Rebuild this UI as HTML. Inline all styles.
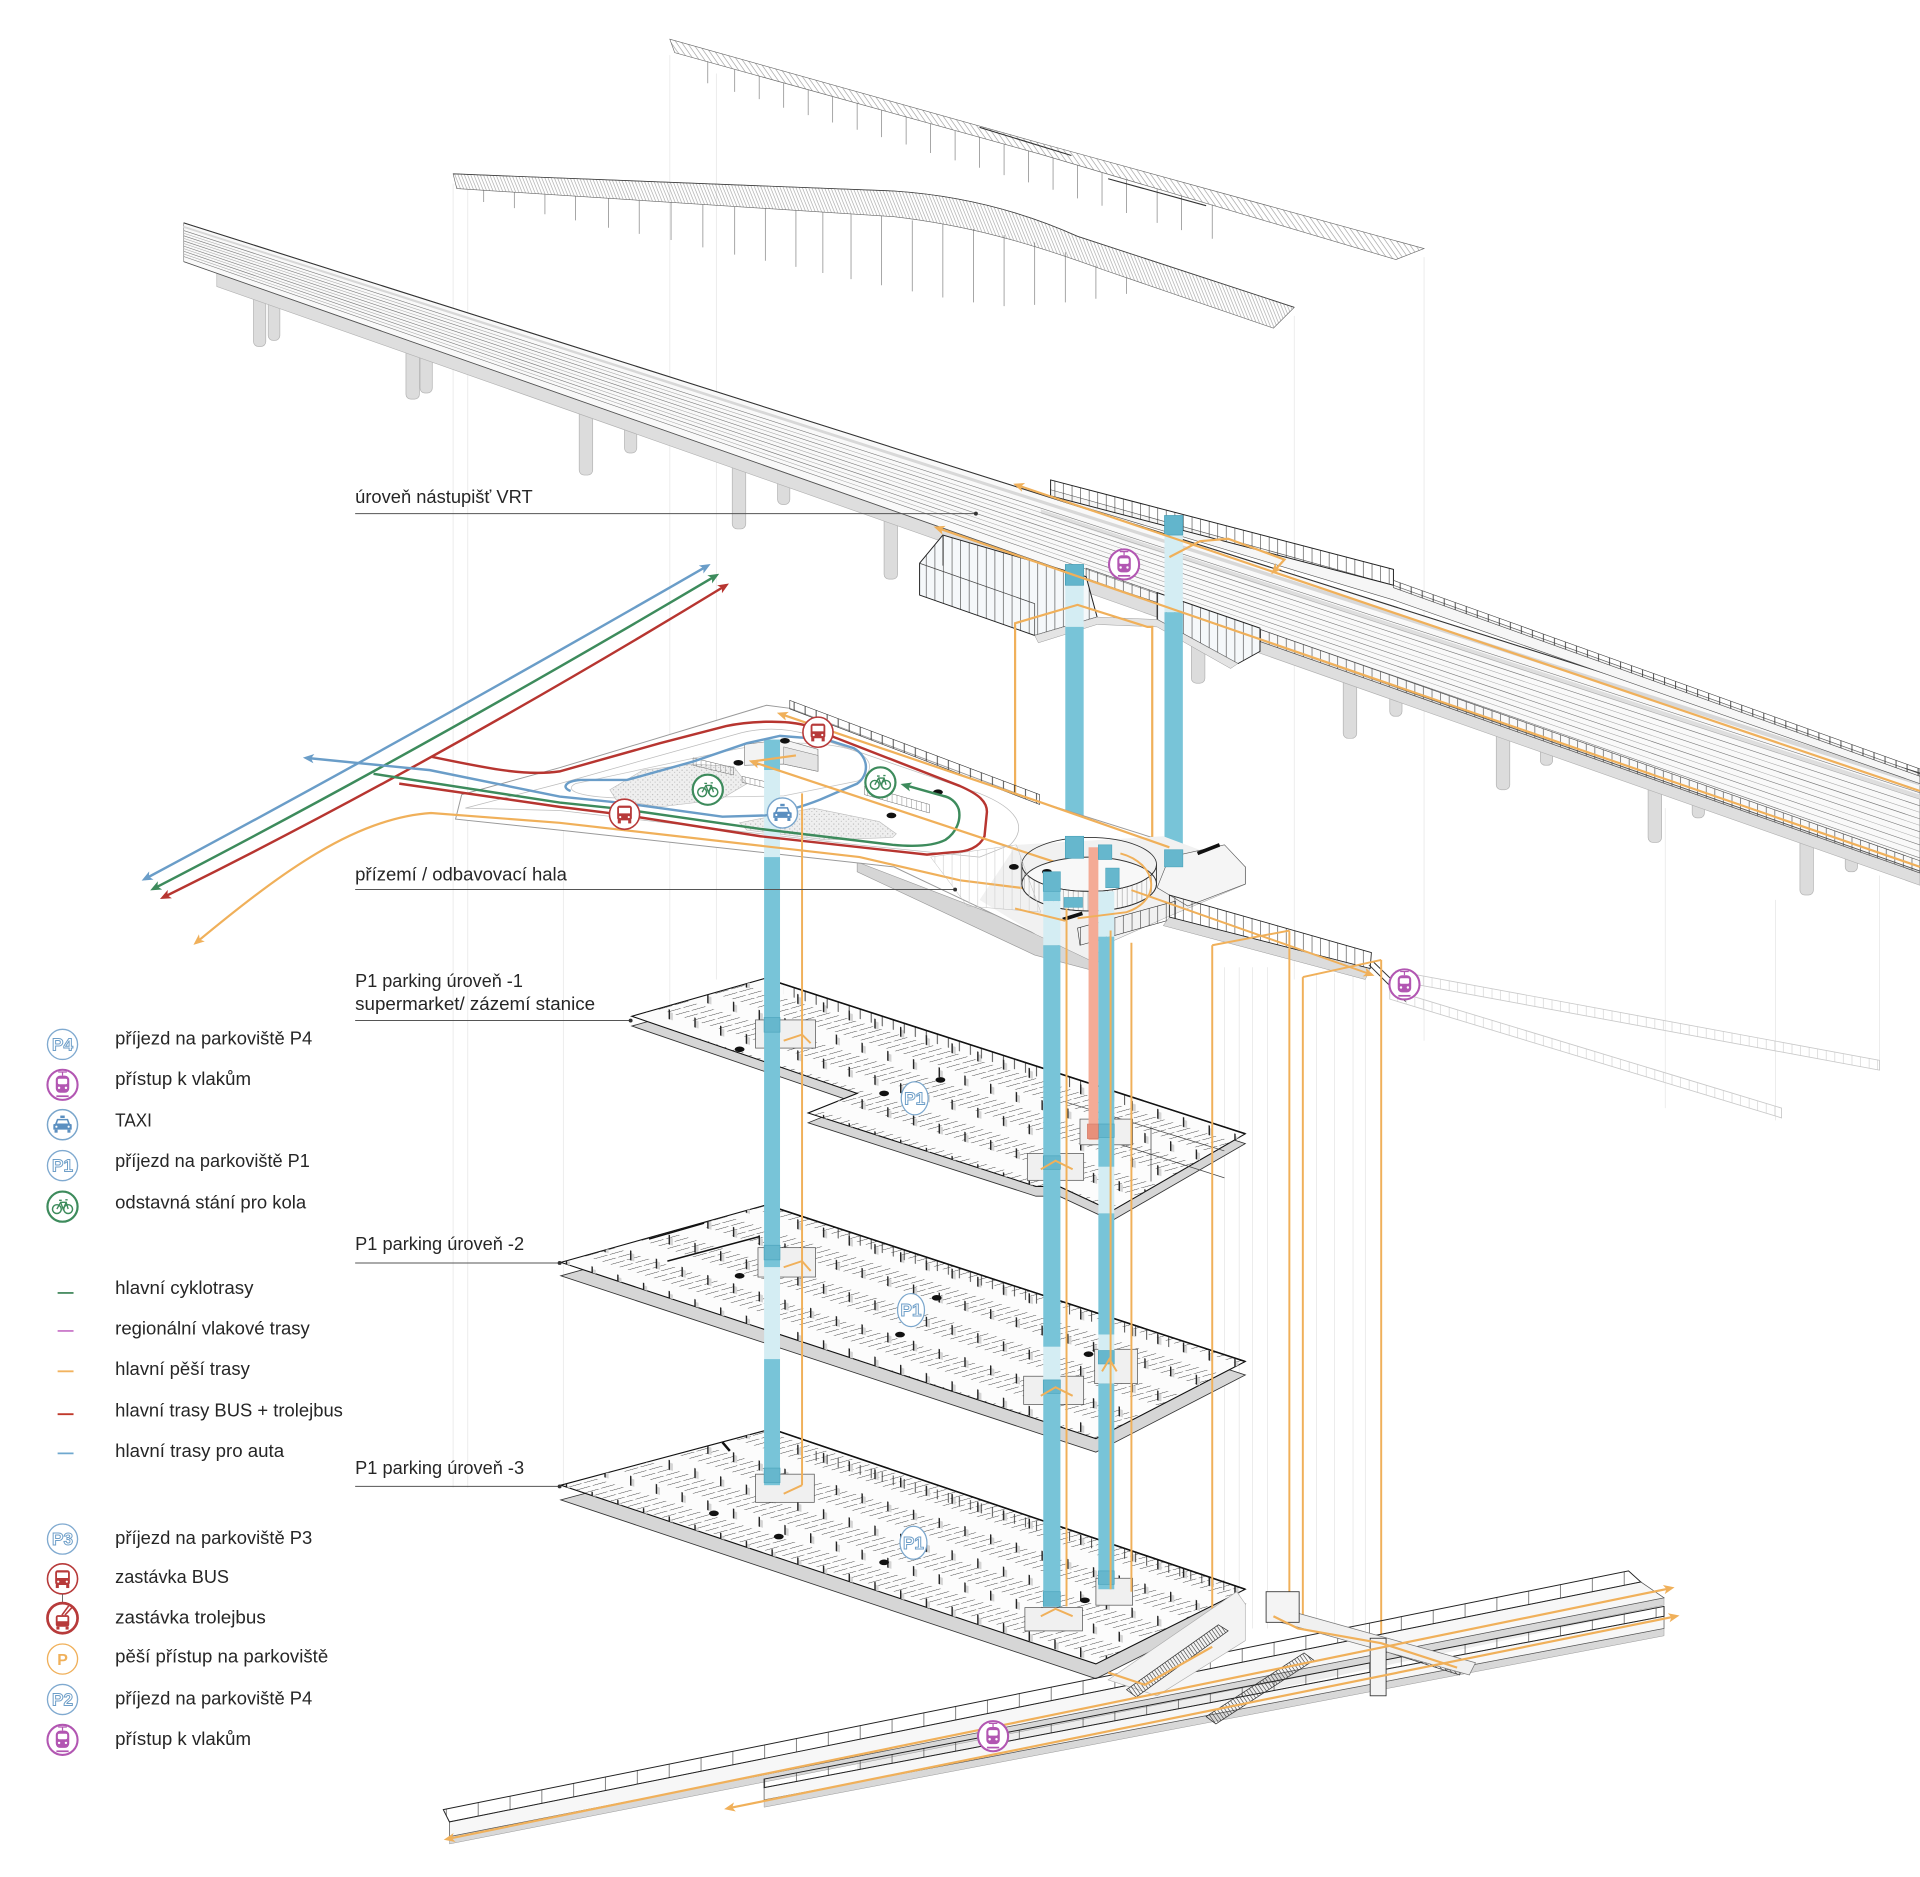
<!DOCTYPE html>
<html lang="cs"><head><meta charset="utf-8"><title>diagram</title>
<style>
html,body{margin:0;padding:0;background:#fff;width:1920px;height:1877px;overflow:hidden}
svg{display:block}
text{font-family:"Liberation Sans",Arial,sans-serif;fill:#262626}
</style></head><body>
<svg xmlns="http://www.w3.org/2000/svg" width="1920" height="1877" viewBox="0 0 1568 1533">
<defs>
<pattern id="vl" width="6" height="10" patternUnits="userSpaceOnUse"><line x1="0.5" y1="0" x2="0.5" y2="10" stroke="#333" stroke-width="0.5"/></pattern>
<pattern id="vl9" width="9" height="10" patternUnits="userSpaceOnUse"><line x1="0.5" y1="0" x2="0.5" y2="10" stroke="#333" stroke-width="0.7"/></pattern>
<pattern id="vlG" width="7" height="10" patternUnits="userSpaceOnUse"><line x1="0.5" y1="0" x2="0.5" y2="10" stroke="#444" stroke-width="0.5"/></pattern>
<pattern id="vlL" width="4" height="10" patternUnits="userSpaceOnUse"><line x1="0.5" y1="0" x2="0.5" y2="10" stroke="#8a8a8a" stroke-width="0.4"/></pattern>
<pattern id="vlS" width="26" height="10" patternUnits="userSpaceOnUse"><line x1="0.5" y1="0" x2="0.5" y2="10" stroke="#555" stroke-width="0.6"/></pattern>
<pattern id="vlF" width="7" height="10" patternUnits="userSpaceOnUse"><line x1="0.5" y1="0" x2="0.5" y2="10" stroke="#cfcfcf" stroke-width="0.5"/></pattern>
<pattern id="h1" width="3.6" height="3.6" patternUnits="userSpaceOnUse" patternTransform="rotate(-35)"><line x1="0.5" y1="0" x2="0.5" y2="3.6" stroke="#555" stroke-width="0.3"/></pattern>
<pattern id="h2" width="2.4" height="3" patternUnits="userSpaceOnUse" patternTransform="rotate(-22)"><line x1="0.5" y1="0" x2="0.5" y2="3" stroke="#666" stroke-width="0.3"/></pattern>
<pattern id="stall" width="7" height="46" patternUnits="userSpaceOnUse" patternTransform="matrix(1,0.32,-1,0.28,0,0)"><line x1="1" y1="5" x2="1" y2="16" stroke="#333" stroke-width="0.62"/><line x1="1" y1="18" x2="1" y2="29" stroke="#333" stroke-width="0.62"/></pattern>
<pattern id="posts" width="21" height="46" patternUnits="userSpaceOnUse" patternTransform="skewY(17.7)"><rect x="0" y="8" width="3.5" height="6" fill="#d4d4d4"/><rect x="0" y="6" width="1.15" height="8" fill="#222"/><rect x="10.5" y="31" width="3.5" height="6" fill="#d4d4d4"/><rect x="10.5" y="29" width="1.15" height="8" fill="#222"/></pattern>
<pattern id="speck" width="4" height="4" patternUnits="userSpaceOnUse"><circle cx="1" cy="1" r="0.45" fill="#9a9a9a"/><circle cx="3" cy="2.8" r="0.4" fill="#aaa"/></pattern>
<pattern id="esc" width="2.6" height="4" patternUnits="userSpaceOnUse" patternTransform="rotate(-35)"><line x1="0.5" y1="0" x2="0.5" y2="4" stroke="#333" stroke-width="0.5"/></pattern>
<marker id="mB" viewBox="0 0 10 10" refX="7" refY="5" markerUnits="userSpaceOnUse" markerWidth="9" markerHeight="9" orient="auto-start-reverse"><path d="M0,0.8 L10,5 L0,9.2 L2.5,5 Z" fill="#6a9dc8"/></marker>
<marker id="mG" viewBox="0 0 10 10" refX="7" refY="5" markerUnits="userSpaceOnUse" markerWidth="9" markerHeight="9" orient="auto-start-reverse"><path d="M0,0.8 L10,5 L0,9.2 L2.5,5 Z" fill="#3d8b5c"/></marker>
<marker id="mR" viewBox="0 0 10 10" refX="7" refY="5" markerUnits="userSpaceOnUse" markerWidth="9" markerHeight="9" orient="auto-start-reverse"><path d="M0,0.8 L10,5 L0,9.2 L2.5,5 Z" fill="#b73530"/></marker>
<marker id="mO" viewBox="0 0 10 10" refX="7" refY="5" markerUnits="userSpaceOnUse" markerWidth="9" markerHeight="9" orient="auto-start-reverse"><path d="M0,0.8 L10,5 L0,9.2 L2.5,5 Z" fill="#f0b05a"/></marker>

<g id="iTrain">
 <circle r="12.3" fill="#fff" stroke="#b256b2" stroke-width="1.7"/>
 <path d="M-3.5,-10.5 L3.5,-10.5 M0,-10.5 L0,-7.5" stroke="#b256b2" stroke-width="1" fill="none"/>
 <rect x="-5.5" y="-7.5" width="11" height="14" rx="3.5" fill="#b256b2"/>
 <rect x="-3.8" y="-5" width="7.6" height="4.5" rx="1" fill="#fff"/>
 <circle cx="-2.8" cy="2.5" r="1" fill="#fff"/><circle cx="2.8" cy="2.5" r="1" fill="#fff"/>
 <path d="M-5,9.3 L5,9.3" stroke="#b256b2" stroke-width="1.4"/>
</g>
<g id="iBus">
 <circle r="12.3" fill="#fff" stroke="#b73a3a" stroke-width="1.3"/>
 <rect x="-6" y="-7" width="12" height="12" rx="2" fill="#b73a3a"/>
 <rect x="-4.5" y="-5.2" width="9" height="4.5" fill="#fff"/>
 <circle cx="-3.5" cy="2.3" r="0.9" fill="#fff"/><circle cx="3.5" cy="2.3" r="0.9" fill="#fff"/>
 <rect x="-5.5" y="4.5" width="2.5" height="3" fill="#b73a3a"/><rect x="3" y="4.5" width="2.5" height="3" fill="#b73a3a"/>
</g>
<g id="iTaxi">
 <circle r="12.3" fill="#fff" stroke="#7aa6cc" stroke-width="1.2"/>
 <rect x="-1.8" y="-7.5" width="3.6" height="2" fill="#5b8fc0"/>
 <path d="M-4.5,-4.8 L4.5,-4.8 L6,-0.8 L7.5,-0.3 L7.5,4 L-7.5,4 L-7.5,-0.3 L-6,-0.8 Z" fill="#5b8fc0"/>
 <path d="M-3.6,-3.6 L3.6,-3.6 L4.5,-1 L-4.5,-1Z" fill="#fff"/>
 <rect x="-6.5" y="4" width="2.5" height="2.5" fill="#5b8fc0"/><rect x="4" y="4" width="2.5" height="2.5" fill="#5b8fc0"/>
 <circle cx="-5" cy="1.6" r="0.9" fill="#fff"/><circle cx="5" cy="1.6" r="0.9" fill="#fff"/>
</g>
<g id="iBike">
 <circle r="12.3" fill="#fff" stroke="#3d8b5c" stroke-width="1.8"/>
 <circle cx="-4.6" cy="2" r="3.6" fill="none" stroke="#3d8b5c" stroke-width="1.2"/>
 <circle cx="4.6" cy="2" r="3.6" fill="none" stroke="#3d8b5c" stroke-width="1.2"/>
 <path d="M-4.6,2 L-1.5,-3.5 L3,-3.5 L4.6,2 M-1.5,-3.5 L0.5,2 L3,-3.5 M-2.8,-5.2 L-0.6,-5.2 M2.3,-5.6 L4.2,-5.6" fill="none" stroke="#3d8b5c" stroke-width="1.1"/>
</g>
<g id="iTrol">
 <circle r="12.3" fill="#fff" stroke="#b73a3a" stroke-width="2.2"/>
 <path d="M-0.5,-2.5 L5,-10 M2,-2.5 L8,-9" stroke="#b73a3a" stroke-width="1.3" fill="none"/>
 <rect x="-5.5" y="-2.5" width="11" height="9.5" rx="1.8" fill="#b73a3a"/>
 <rect x="-4" y="-1" width="8" height="3.5" fill="#fff"/>
 <rect x="-5" y="7" width="2.5" height="2.3" fill="#b73a3a"/><rect x="2.5" y="7" width="2.5" height="2.3" fill="#b73a3a"/>
</g>
</defs>

<!-- faint projection lines -->
<g stroke="#e6e6e6" stroke-width="0.6" fill="none">
<path d="M370,150V1215 M382,153V1215 M460,640V1215 M547,45V835 M585,60V800 M1057,258V800 M1163,210V850 M1360,660V905 M1450,735V915 M1535,715V870"/>
</g>
<g stroke="#e0e0e0" stroke-width="0.5" fill="none">
<path d="M1000,790V1330 M1012,790V1330 M1023,790V1330 M1035,790V1330 M1075,795V1330 M1090,795V1335 M1105,795V1340 M1115,795V1340"/>
</g>

<!-- Roof 1 -->
<g stroke="#888" stroke-width="0.6">
<path d="M578,50V68 M600,57V75 M620,62V81 M640,68V88 M660,73V94 M680,79V100 M700,84V106 M720,90V112 M740,95V118 M760,101V125 M780,107V131 M800,112V137 M820,118V143 M840,123V149 M860,129V155 M880,135V162 M900,141V168 M920,147V174 M945,154V182 M965,160V188 M990,167V195"/>
</g>
<polygon points="547,32 850,117 1163,203 1140,212 850,126 551,43" fill="url(#h1)" stroke="#666" stroke-width="0.5"/>
<path d="M800,104 L875,127 M905,146 L985,168" stroke="#333" stroke-width="0.9"/>

<!-- Roof 2 -->
<g stroke="#888" stroke-width="0.6">
<path d="M395,155V165 M420,157V170 M445,159V175 M470,160V180 M497,162V186 M522,164V191 M548,165V196 M574,167V202 M600,169V208 M625,170V213 M650,172V218 M672,173V223 M695,175V228 M720,176V233 M745,180V238 M770,183V243 M795,187V247 M820,192V250 M845,198V249 M870,206V247 M895,217V244 M920,227V240"/>
</g>
<path d="M370,142 L730,156 C790,160 840,175 880,193 L1057,251 L1040,268 L900,220 C840,198 790,184 730,177 L373,154 Z" fill="url(#h2)" stroke="#666" stroke-width="0.5"/>
<path d="M370,142 L730,156 C790,160 840,175 880,193 L1057,251" fill="none" stroke="#444" stroke-width="0.7"/>

<!-- Viaduct pillars -->
<g fill="#dcdcdc" stroke="#b5b5b5" stroke-width="0.6">
<rect x="207" y="230" width="10" height="53" rx="4"/>
<rect x="219" y="234" width="9.5" height="44" rx="4"/>
<rect x="331.5" y="270" width="11" height="56" rx="4"/>
<rect x="343" y="274" width="10" height="47" rx="4"/>
<rect x="473" y="320" width="11" height="68" rx="4"/>
<rect x="510" y="333" width="10" height="37" rx="4"/>
<rect x="598" y="360" width="11" height="72" rx="4"/>
<rect x="635" y="373" width="10" height="39" rx="4"/>
<rect x="722" y="405" width="11" height="68" rx="4"/>
<rect x="973" y="495" width="11" height="63" rx="4"/>
<rect x="1097" y="540" width="11" height="63" rx="4"/>
<rect x="1135" y="553" width="10" height="32" rx="4"/>
<rect x="1222" y="583" width="11" height="62" rx="4"/>
<rect x="1258" y="596" width="10" height="29" rx="4"/>
<rect x="1346" y="627" width="11" height="61" rx="4"/>
<rect x="1382" y="640" width="10" height="28" rx="4"/>
<rect x="1470" y="670" width="11" height="61" rx="4"/>
<rect x="1507" y="683" width="10" height="29" rx="4"/>
</g>

<!-- Viaduct deck -->
<polygon points="177,223 1568,711 1568,723 177,234" fill="#dedede" stroke="#b0b0b0" stroke-width="0.5"/>
<polygon points="150,182 1568,631.5 1568,711.4 150,213.7" fill="#f9f9f9" stroke="#777" stroke-width="0.5"/>
<polygon points="150,184.5 1568,637.9 1568,641.7 150,186.1" fill="#d8d8d8"/>
<polygon points="850,416 1568,649 1568,653 850,419.5" fill="#dedede"/>
<g fill="none" stroke="#7a7a7a" stroke-width="0.5">
<path d="M150,188.3L1568,647.5 M150,192.6L1568,658.1 M150,196.8L1568,668.8 M150,201L1568,679.4 M150,205.2L1568,690.1 M150,209.5L1568,700.7"/>
</g>
<g fill="none" stroke="#aaa" stroke-width="0.45">
<path d="M150,190.5L1568,652.8 M150,194.7L1568,663.5 M150,198.9L1568,674.1 M150,203.1L1568,684.8 M150,207.4L1568,695.4"/>
</g>
<path d="M150,182 L1568,631.5" stroke="#333" stroke-width="0.9"/>
<path d="M150,213.7 L1568,711.4" stroke="#555" stroke-width="0.7"/>
<!-- far platform & glass -->
<polygon points="858,400 1138,478 1568,632 1568,640 1138,490 858,406" fill="#f6f6f6" stroke="#555" stroke-width="0.5"/>
<polygon points="858,392 1138,465 1138,478 858,405" fill="url(#vlG)" stroke="#222" stroke-width="0.8"/>
<polygon points="1138,474 1568,628 1568,634 1138,480" fill="url(#vl9)" stroke="#444" stroke-width="0.5"/>
<!-- near platform railing -->
<polygon points="887,464 945,484 945,492 887,473" fill="url(#vlG)" stroke="#444" stroke-width="0.5"/>
<polygon points="1029,514 1568,703 1568,713 1029,524" fill="url(#vlG)" stroke="#444" stroke-width="0.5"/>
<!-- glass halls -->
<polygon points="751,460 770,437 887,471 896,504 845,519 751,486" fill="#f5f8fa"/>
<polygon points="751,460 770,437 887,471 896,504 845,519 751,486" fill="url(#vlG)" stroke="#222" stroke-width="0.8"/>
<path d="M751,460 L845,493 L845,519 M770,437 L770,462" stroke="#444" stroke-width="0.6" fill="none"/>
<polygon points="945,484 1029,513 1029,532 1011,542 945,506" fill="#f5f8fa"/>
<polygon points="945,484 1029,513 1029,532 1011,542 945,506" fill="url(#vlG)" stroke="#222" stroke-width="0.8"/>
<polygon points="845,519 896,504 945,506 1011,542 1005,546 945,512 896,510 848,525" fill="#e4e4e4" stroke="#999" stroke-width="0.4"/>

<!-- upper shafts -->
<rect x="870" y="478" width="15" height="34" fill="#d4edf3"/>
<rect x="870" y="512" width="15" height="180" fill="#78c4d8"/>
<rect x="951" y="437" width="15" height="63" fill="#d4edf3"/>
<rect x="951" y="500" width="15" height="193" fill="#78c4d8"/>
<rect x="870" y="461" width="15" height="17" fill="#62b5cc" stroke="#3f98b1" stroke-width="0.5"/>
<rect x="951" y="421" width="15" height="16" fill="#62b5cc" stroke="#3f98b1" stroke-width="0.5"/>

<!-- upper orange paths -->
<g fill="none" stroke="#f0b05a" stroke-width="1.8">
<path d="M830,396 L1568,646" marker-start="url(#mO)"/>
<path d="M765,431 L1568,708" marker-start="url(#mO)"/>
<path d="M955,455 L980,442 L1003,440 L1049,457 L1040,467" marker-end="url(#mO)"/>
<path d="M829,742 V509 L880,494 L937,512 L941,512 V748"/>
</g>

<!-- long route arrows -->
<g fill="none" stroke-width="2">
<path d="M118,718 Q330,605 578,462" stroke="#6a9dc8" marker-start="url(#mB)" marker-end="url(#mB)"/>
<path d="M125,726 Q340,615 585,470" stroke="#3d8b5c" marker-start="url(#mG)" marker-end="url(#mG)"/>
<path d="M133,733 Q352,625 593,478" stroke="#b73530" marker-start="url(#mR)" marker-end="url(#mR)"/>
</g>

<!-- Plaza -->
<polygon points="700,704 846,760 890,784 905,770 905,778 890,792 845,780 700,712" fill="#d6d6d6" stroke="#999" stroke-width="0.5"/>
<polygon points="372,669 377,649 457,627 626,576 645,578.5 849,655 1017,708 1017,722 955,748 905,770 890,784 846,763 730,708 457,678" fill="#fff" stroke="#9a9a9a" stroke-width="0.8"/>
<polygon points="830,690 950,683 1017,708 1017,722 955,748 905,770 890,784 846,763 800,735" fill="#f1f1f1"/>
<path d="M380,660 L457,640 L600,600 C620,594 640,594 660,600 L800,648 C830,660 840,675 825,690 L800,700 L700,690 L457,662 Z" fill="none" stroke="#bbb" stroke-width="0.6"/>
<path d="M470,640 L600,612 C640,604 680,606 700,614 C715,622 712,632 700,638 L640,650 L520,652 C470,652 460,645 470,640 Z" fill="none" stroke="#c4c4c4" stroke-width="0.6"/>
<polygon points="645,572 849,649 849,657 645,579" fill="url(#vl9)" stroke="#333" stroke-width="0.5"/>
<!-- islands -->
<polygon points="498,645 525,629 566,624 599,626 610,640 588,653 539,659 503,653" fill="#efefef"/>
<polygon points="498,645 525,629 566,624 599,626 610,640 588,653 539,659 503,653" fill="url(#speck)" stroke="#bbb" stroke-width="0.5"/>
<polygon points="604,672 664,660 718,671 732,681 729,684 675,686 610,678" fill="#efefef"/>
<polygon points="604,672 664,660 718,671 732,681 729,684 675,686 610,678" fill="url(#speck)" stroke="#bbb" stroke-width="0.5"/>
<!-- bike racks -->
<polygon points="566,619 599,627 599,633 566,625" fill="url(#vlL)" stroke="#666" stroke-width="0.4"/>
<polygon points="606,634 632,640 632,645 606,639" fill="url(#vlL)" stroke="#666" stroke-width="0.4"/>
<polygon points="706,642 759,657 759,664 706,649" fill="url(#vlL)" stroke="#666" stroke-width="0.4"/>
<!-- small building -->
<polygon points="608,608 640,604 668,612 668,630 640,624 608,625" fill="#f3f3f3" stroke="#777" stroke-width="0.5"/>
<polygon points="640,610 668,617 668,630 640,624" fill="#e4e4e4" stroke="#777" stroke-width="0.4"/>
<!-- shaft A top on plaza -->
<rect x="624" y="604" width="13" height="25" fill="#78c4d8"/>
<rect x="624" y="629" width="13" height="71" fill="#d4edf3"/>
<!-- blobs -->
<g fill="#111"><ellipse cx="641" cy="605" rx="4" ry="2.3"/><ellipse cx="603" cy="623" rx="4" ry="2.3"/><ellipse cx="766" cy="647" rx="4" ry="2.3"/><ellipse cx="728" cy="666" rx="4" ry="2.3"/></g>

<!-- plaza routes -->
<g fill="none" stroke-width="2">
<path d="M250,619 L351,629 L457,650.6 L510,656 L590,667 L625,666 C645,662 660,657 670,653 L700,640 C710,633 710,618 697,611 L675,604 L637,601 L610,607 L566,622 L512,637 L474,637 C462,638 458,643 466,646" stroke="#6a9dc8" marker-start="url(#mB)"/>
<path d="M305,632 L457,655.5 L510,661 L621,677 L729,690 C750,692 764,690 772,686 C781,680 785,670 783,661 C781,655 776,651 770,650 L738,641" stroke="#3d8b5c" marker-end="url(#mG)"/>
<path d="M352,618 C400,628 430,634 457,630 L539,607 L593,593 C612,589 640,588 656,592 C668,595 675,598 681,602 L784,642 C800,649 806,655 806,663 L804,683 C800,692 790,696 778,696 L757,698 L621,683 L510,665.6 L457,659 L326,640" stroke="#b73530"/>
</g>
<g fill="none" stroke="#f0b05a" stroke-width="1.8">
<path d="M160,770 C230,712 290,668 352,664 L457,672 L702,700 L784,719 L849,727 L880,736" marker-start="url(#mO)"/>
<path d="M637,583 L849,655 L955,692" marker-start="url(#mO)"/>
<path d="M614,622 L849,700 L905,718" marker-start="url(#mO)"/>
<path d="M614,622 L650,617"/>
</g>

<!-- Hall -->
<ellipse cx="889.5" cy="722" rx="55" ry="22" fill="#f8f8f8" stroke="#333" stroke-width="0.8"/>
<path d="M834.5,706 A55,22 0 0 0 944.5,706 L944.5,722 A55,22 0 0 1 834.5,722 Z" fill="url(#vlL)" stroke="#333" stroke-width="0.7"/>
<ellipse cx="889.5" cy="706" rx="55" ry="22" fill="none" stroke="#333" stroke-width="0.7"/>
<polygon points="760,700 830,690 850,745 790,740" fill="url(#vlF)" stroke="#bbb" stroke-width="0.4"/>
<polygon points="955,700 1000,690 1017,708 1017,722 970,740 945,725" fill="#f5f5f5" stroke="#555" stroke-width="0.5"/>
<polygon points="880,758 960,736 960,750 882,772" fill="url(#vlG)" stroke="#333" stroke-width="0.5"/>
<path d="M978,697 L996,690" stroke="#111" stroke-width="3"/>
<path d="M868,751 L884,746" stroke="#111" stroke-width="3"/>
<g fill="#111"><ellipse cx="855" cy="712" rx="4" ry="2.3"/><ellipse cx="880" cy="690" rx="4" ry="2.3"/><ellipse cx="828" cy="708" rx="4" ry="2.3"/></g>
<!-- bridge -->
<polygon points="955,749 1119,791 1115,800 950,756" fill="#dcdcdc" stroke="#999" stroke-width="0.4"/>
<polygon points="955,731 1120,778 1119,791 955,749" fill="url(#vlG)" stroke="#222" stroke-width="0.7"/>
<path d="M1118,788 L1148,818 M1122,786 L1152,815" stroke="#333" stroke-width="0.8"/>
<!-- faded ramps -->
<polygon points="1140,793 1535,866 1535,874 1140,801" fill="url(#vlF)" stroke="#c9c9c9" stroke-width="0.7"/>
<polygon points="1135,808 1455,905 1455,913 1135,816" fill="url(#vlF)" stroke="#c9c9c9" stroke-width="0.7"/>

<!-- Parking level -1 -->
<polygon points="516,830 625,799 1017,926 908,989 865,969 846,969 660,909 700,893" transform="translate(0,8)" fill="#d6d6d6" stroke="#333" stroke-width="0.7"/>
<polygon points="516,830 625,799 1017,926 908,989 865,969 846,969 660,909 700,893" fill="#fcfcfc" stroke="#111" stroke-width="0.9"/>
<polygon points="516,830 625,799 1017,926 908,989 865,969 846,969 660,909 700,893" fill="url(#stall)"/>
<polygon points="516,830 625,799 1017,926 908,989 865,969 846,969 660,909 700,893" fill="url(#posts)"/>
<polygon points="640,804 920,895 920,903 640,812" fill="url(#vl9)"/>
<path d="M625,799 L1017,926" stroke="#111" stroke-width="1.3"/>
<path d="M870,900 L1000,940 M900,930 L1000,962 M940,920 L940,965" stroke="#444" stroke-width="0.6"/>
<g fill="#111"><ellipse cx="604" cy="857" rx="4" ry="2.3"/><ellipse cx="768" cy="882" rx="4" ry="2.3"/><ellipse cx="722" cy="893" rx="4" ry="2.3"/><ellipse cx="857" cy="934" rx="4" ry="2.3"/></g>

<!-- Parking level -2 -->
<polygon points="458,1031 626,984 1017,1112 895,1175" transform="translate(0,11)" fill="#d6d6d6" stroke="#333" stroke-width="0.7"/>
<polygon points="458,1031 626,984 1017,1112 895,1175" fill="#fcfcfc" stroke="#111" stroke-width="0.9"/>
<polygon points="458,1031 626,984 1017,1112 895,1175" fill="url(#stall)"/>
<polygon points="458,1031 626,984 1017,1112 895,1175" fill="url(#posts)"/>
<polygon points="680,1002 960,1094 960,1102 680,1010" fill="url(#vl9)"/>
<path d="M626,984 L1017,1112" stroke="#111" stroke-width="1.3"/>
<path d="M530,1012 L575,999 M545,1030 L620,1010" stroke="#111" stroke-width="1.2"/>
<g fill="#111"><ellipse cx="604" cy="1042" rx="4" ry="2.3"/><ellipse cx="765" cy="1060" rx="4" ry="2.3"/><ellipse cx="735" cy="1090" rx="4" ry="2.3"/><ellipse cx="889" cy="1106" rx="4" ry="2.3"/></g>

<!-- Parking level -3 -->
<polygon points="458,1213 630,1167 1017,1298 895,1359" transform="translate(0,12)" fill="#d6d6d6" stroke="#333" stroke-width="0.7"/>
<polygon points="458,1213 630,1167 1017,1298 895,1359" fill="#fcfcfc" stroke="#111" stroke-width="0.9"/>
<polygon points="458,1213 630,1167 1017,1298 895,1359" fill="url(#stall)"/>
<polygon points="458,1213 630,1167 1017,1298 895,1359" fill="url(#posts)"/>
<polygon points="660,1183 1000,1291 1000,1299 660,1191" fill="url(#vl9)"/>
<path d="M630,1167 L1017,1298" stroke="#111" stroke-width="1.3"/>
<path d="M590,1178 L596,1185" stroke="#111" stroke-width="2"/>
<g fill="#111"><ellipse cx="583" cy="1236" rx="4" ry="2.3"/><ellipse cx="636" cy="1255" rx="4" ry="2.3"/><ellipse cx="722" cy="1276" rx="4" ry="2.3"/><ellipse cx="886" cy="1307" rx="4" ry="2.3"/></g>

<!-- cabins -->
<g fill="#f0f0f0" stroke="#555" stroke-width="0.6">
<rect x="617" y="833" width="49" height="23"/><rect x="839" y="942" width="46" height="22"/><rect x="882" y="914" width="43" height="21"/>
<rect x="619" y="1019" width="47" height="24"/><rect x="836" y="1124" width="49" height="23"/><rect x="894" y="1102" width="35" height="28"/>
<rect x="617" y="1204" width="48" height="23"/><rect x="837" y="1313" width="47" height="19"/><rect x="895" y="1289" width="30" height="22"/>
</g>

<!-- lower shafts -->
<rect x="624" y="700" width="13" height="335" fill="#78c4d8"/>
<rect x="624" y="1035" width="13" height="75" fill="#d4edf3"/>
<rect x="624" y="1110" width="13" height="103" fill="#78c4d8"/>
<rect x="852" y="728" width="14" height="8" fill="#78c4d8"/>
<rect x="852" y="736" width="14" height="36" fill="#d4edf3"/>
<rect x="852" y="772" width="14" height="328" fill="#78c4d8"/>
<rect x="852" y="1100" width="14" height="35" fill="#d4edf3"/>
<rect x="852" y="1135" width="14" height="177" fill="#78c4d8"/>
<rect x="889" y="692" width="8" height="239" fill="#f4ab96"/>
<rect x="897" y="728" width="13" height="37" fill="#d4edf3"/>
<rect x="897" y="765" width="13" height="188" fill="#78c4d8"/>
<rect x="897" y="953" width="13" height="38" fill="#d4edf3"/>
<rect x="897" y="991" width="13" height="99" fill="#78c4d8"/>
<rect x="897" y="1090" width="13" height="40" fill="#d4edf3"/>
<rect x="897" y="1130" width="13" height="168" fill="#78c4d8"/>
<g fill="#66b7cd" stroke="#4aa3bb" stroke-width="0.5">
<rect x="624" y="831" width="13" height="12"/><rect x="852" y="944" width="14" height="11"/><rect x="897" y="918" width="13" height="11"/>
<rect x="624" y="1017" width="13" height="12"/><rect x="852" y="1127" width="14" height="11"/><rect x="897" y="1103" width="13" height="11"/>
<rect x="624" y="1199" width="13" height="12"/><rect x="852" y="1300" width="14" height="12"/><rect x="897" y="1283" width="13" height="11"/>
<rect x="852" y="712" width="14" height="16"/><rect x="870" y="683" width="15" height="18"/><rect x="897" y="690" width="11" height="12"/>
<rect x="903" y="709" width="11" height="16"/><rect x="869" y="733" width="15" height="8"/><rect x="951" y="694" width="15" height="14"/>
</g>
<rect x="888" y="918" width="9" height="12" fill="#e8907a" stroke="#c76" stroke-width="0.4"/>

<!-- vertical orange lines -->
<g fill="none" stroke="#f0b05a" stroke-width="1.6">
<path d="M655,648 V1213 M871,742 V1312 M907,760 V1298 M924,770 V1300 M990,772 V1327 M1053,760 V1322 M1064,798 V1325 M1128,784 V1342"/>
<path d="M829,742 L870,752"/>
<path d="M915,697 C945,705 950,735 920,745 L880,750"/>
<path d="M924,727 L1120,796" marker-end="url(#mO)"/>
<path d="M990,772 L1053,760 M1064,798 L1128,784"/>
<path d="M640,850 L655,845 L662,852 M850,955 L862,948 L876,955 M640,1035 L655,1030 L662,1038 M850,1140 L862,1133 L876,1140 M640,1220 L655,1213 M850,1320 L862,1314 L876,1320 M900,1120 L906,1110 L912,1120"/>
</g>

<!-- bottom platforms -->
<polygon points="700,1438 1340,1305 1359,1312 700,1452" fill="#ededed"/>
<polygon points="367,1500 1359,1305 1359,1311 367,1506" fill="#d8d8d8" stroke="#999" stroke-width="0.4"/>
<polygon points="367,1488 1340,1292 1359,1305 367,1500" fill="#f7f7f7" stroke="#555" stroke-width="0.6"/>
<polygon points="362,1478 1330,1283 1340,1292 367,1488" fill="url(#vlS)" stroke="#222" stroke-width="0.8"/>
<polygon points="624,1470 1359,1330 1359,1336 624,1476" fill="#d8d8d8" stroke="#999" stroke-width="0.4"/>
<polygon points="624,1460 1359,1320 1359,1330 624,1470" fill="#f7f7f7" stroke="#555" stroke-width="0.6"/>
<polygon points="624,1453 1359,1312 1359,1320 624,1460" fill="url(#vlS)" stroke="#222" stroke-width="0.8"/>
<!-- stairs / escalators / tower -->
<polygon points="905,1372 1010,1300 1017,1310 1017,1340 945,1385" fill="#f3f3f3" stroke="#aaa" stroke-width="0.5"/>
<polygon points="920,1380 995,1327 1003,1332 928,1386" fill="url(#esc)" stroke="#333" stroke-width="0.6"/>
<polygon points="985,1402 1065,1350 1073,1356 993,1408" fill="url(#esc)" stroke="#333" stroke-width="0.6"/>
<polygon points="1132,1340 1195,1360 1192,1368 1129,1348" fill="url(#esc)" stroke="#333" stroke-width="0.6"/>
<polygon points="1040,1312 1205,1358 1200,1368 1035,1322" fill="#f0f0f0" stroke="#777" stroke-width="0.6"/>
<rect x="1034" y="1300" width="27" height="25" fill="#f4f4f4" stroke="#333" stroke-width="0.7"/>
<rect x="1119" y="1338" width="13" height="47" fill="#f4f4f4" stroke="#333" stroke-width="0.7"/>
<g fill="none" stroke="#f0b05a" stroke-width="1.8">
<path d="M365,1502 L1365,1297" marker-start="url(#mO)" marker-end="url(#mO)"/>
<path d="M594,1477 L1369,1320" marker-start="url(#mO)" marker-end="url(#mO)"/>
<path d="M905,1366 L935,1376 L990,1345 M1040,1320 L1060,1330 L1128,1342 L1190,1362"/>
</g>

<!-- diagram icons -->
<use href="#iTrain" x="918" y="461"/>
<use href="#iTrain" x="1147" y="804"/>
<use href="#iTrain" x="811" y="1418"/>
<use href="#iBus" x="668" y="598"/>
<use href="#iBus" x="510" y="665"/>
<use href="#iBike" x="578" y="645"/>
<use href="#iBike" x="719" y="639"/>
<use href="#iTaxi" x="639" y="664"/>
<g fill="#fff" stroke="#7aa6cc" stroke-width="1"><ellipse cx="747" cy="897" rx="11" ry="13.5"/><ellipse cx="744" cy="1070" rx="11" ry="13.5"/><ellipse cx="746" cy="1260" rx="11" ry="13.5"/></g>
<g font-size="14" font-weight="bold" text-anchor="middle">
<text x="747" y="902" style="fill:none;stroke:#6d9ec8;stroke-width:0.8">P1</text><text x="744" y="1075" style="fill:none;stroke:#6d9ec8;stroke-width:0.8">P1</text><text x="746" y="1265" style="fill:none;stroke:#6d9ec8;stroke-width:0.8">P1</text>
</g>

<!-- level labels -->
<g stroke="#555" stroke-width="0.8">
<path d="M290,419.5 H797 M290,726.5 H780 M290,833.5 H515 M290,1031.5 H457 M290,1214 H457"/>
</g>
<g fill="#333"><circle cx="797" cy="419.5" r="1.6"/><circle cx="780" cy="726.5" r="1.6"/><circle cx="515" cy="833.5" r="1.6"/><circle cx="457" cy="1031.5" r="1.6"/><circle cx="457" cy="1214" r="1.6"/></g>
<g font-size="15">
<text x="290" y="411" textLength="145" lengthAdjust="spacingAndGlyphs">úroveň nástupišť VRT</text>
<text x="290" y="719" textLength="173" lengthAdjust="spacingAndGlyphs">přízemí / odbavovací hala</text>
<text x="290" y="806" textLength="137" lengthAdjust="spacingAndGlyphs">P1 parking úroveň -1</text>
<text x="290" y="825" textLength="196" lengthAdjust="spacingAndGlyphs">supermarket/ zázemí stanice</text>
<text x="290" y="1021" textLength="138" lengthAdjust="spacingAndGlyphs">P1 parking úroveň -2</text>
<text x="290" y="1204" textLength="138" lengthAdjust="spacingAndGlyphs">P1 parking úroveň -3</text>
</g>

<!-- legend icons -->
<g fill="#fff" stroke="#80aad0" stroke-width="1.1">
<circle cx="51" cy="853" r="12.3"/><circle cx="51" cy="952" r="12.3"/><circle cx="51" cy="1257" r="12.3"/><circle cx="51" cy="1388" r="12.3"/>
</g>
<circle cx="51" cy="1355" r="12.3" fill="#fff" stroke="#f0b05a" stroke-width="1.1"/>
<g font-size="14" font-weight="bold" text-anchor="middle">
<text x="51" y="858" style="fill:none;stroke:#6d9ec8;stroke-width:0.8">P4</text>
<text x="51" y="957" style="fill:none;stroke:#6d9ec8;stroke-width:0.8">P1</text>
<text x="51" y="1262" style="fill:none;stroke:#6d9ec8;stroke-width:0.8">P3</text>
<text x="51" y="1393" style="fill:none;stroke:#6d9ec8;stroke-width:0.8">P2</text>
<text x="51" y="1360" font-size="13" style="fill:#f0b05a">P</text>
</g>
<use href="#iTrain" x="51" y="886"/>
<use href="#iTaxi" x="51" y="918.6"/>
<use href="#iBike" x="51" y="985.5"/>
<use href="#iBus" x="51" y="1289.5"/>
<path d="M51,1302 V1309" stroke="#555" stroke-width="0.7"/>
<use href="#iTrol" x="51" y="1321.6"/>
<use href="#iTrain" x="51" y="1421"/>
<g stroke-width="1.5">
<path d="M47,1056 H60" stroke="#4d8f66"/>
<path d="M47,1087 H60" stroke="#cc7fcc"/>
<path d="M47,1120 H60" stroke="#f2b35f"/>
<path d="M47,1155 H60" stroke="#c0392b"/>
<path d="M47,1187 H60" stroke="#6fa8cf"/>
</g>
<g font-size="15">
<text x="94" y="853" textLength="161" lengthAdjust="spacingAndGlyphs">příjezd na parkoviště P4</text>
<text x="94" y="886" textLength="111" lengthAdjust="spacingAndGlyphs">přístup k vlakům</text>
<text x="94" y="920" textLength="30" lengthAdjust="spacingAndGlyphs">TAXI</text>
<text x="94" y="953" textLength="159" lengthAdjust="spacingAndGlyphs">příjezd na parkoviště P1</text>
<text x="94" y="987" textLength="156" lengthAdjust="spacingAndGlyphs">odstavná stání pro kola</text>
<text x="94" y="1057" textLength="113" lengthAdjust="spacingAndGlyphs">hlavní cyklotrasy</text>
<text x="94" y="1090" textLength="159" lengthAdjust="spacingAndGlyphs">regionální vlakové trasy</text>
<text x="94" y="1123" textLength="110" lengthAdjust="spacingAndGlyphs">hlavní pěší trasy</text>
<text x="94" y="1157" textLength="186" lengthAdjust="spacingAndGlyphs">hlavní trasy BUS + trolejbus</text>
<text x="94" y="1190" textLength="138" lengthAdjust="spacingAndGlyphs">hlavní trasy pro auta</text>
<text x="94" y="1261" textLength="161" lengthAdjust="spacingAndGlyphs">příjezd na parkoviště P3</text>
<text x="94" y="1293" textLength="93" lengthAdjust="spacingAndGlyphs">zastávka BUS</text>
<text x="94" y="1326" textLength="123" lengthAdjust="spacingAndGlyphs">zastávka trolejbus</text>
<text x="94" y="1358" textLength="174" lengthAdjust="spacingAndGlyphs">pěší přístup na parkoviště</text>
<text x="94" y="1392" textLength="161" lengthAdjust="spacingAndGlyphs">příjezd na parkoviště P4</text>
<text x="94" y="1425" textLength="111" lengthAdjust="spacingAndGlyphs">přístup k vlakům</text>
</g>
</svg>
</body></html>
